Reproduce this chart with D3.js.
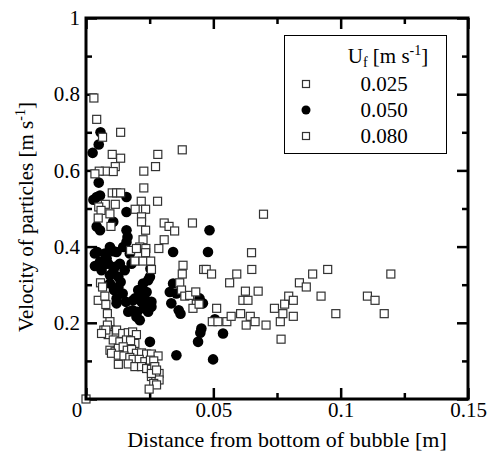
<!DOCTYPE html>
<html lang="en">
<head>
  <meta charset="UTF-8" />
  <title>Velocity of particles vs distance</title>
  <script src="https://d3js.org/d3.v7.min.js"></script>
  <style>
    body { margin: 0; background: #fff; }
    svg, svg text { font-family: "Liberation Serif", "Times New Roman", Times, "DejaVu Serif", "Noto Serif", serif !important; fill: #000; }
  </style>
</head>
<body>
  <svg id="chart" width="487" height="454"></svg>
  <script>
    // Uf = 0.025 m/s  (open squares)
    const s025 = [
      [0.0070, 0.181], [0.0094, 0.183], [0.0120, 0.181], [0.0144, 0.172], [0.0166, 0.174],
      [0.0183, 0.176], [0.0198, 0.169], [0.0087, 0.169], [0.0107, 0.155], [0.0133, 0.150],
      [0.0159, 0.155], [0.0192, 0.146], [0.0175, 0.153], [0.0094, 0.128], [0.0114, 0.124],
      [0.0127, 0.133], [0.0146, 0.137], [0.0162, 0.128], [0.0179, 0.130], [0.0198, 0.120],
      [0.0218, 0.121], [0.0238, 0.118], [0.0257, 0.118], [0.0283, 0.113], [0.0100, 0.120],
      [0.0127, 0.115], [0.0149, 0.113], [0.0172, 0.109], [0.0185, 0.104], [0.0209, 0.104],
      [0.0231, 0.098], [0.0253, 0.102], [0.0266, 0.100], [0.0127, 0.091], [0.0166, 0.092],
      [0.0192, 0.085], [0.0218, 0.085], [0.0238, 0.080], [0.0257, 0.078], [0.0270, 0.085],
      [0.0287, 0.067], [0.0257, 0.059], [0.0274, 0.059], [0.0287, 0.050], [0.0266, 0.041],
      [0.0277, 0.037], [0.0248, 0.026], [0.0257, 0.067], [0.0277, 0.076],
      [0.0057, 0.305], [0.0065, 0.294], [0.0048, 0.259], [0.0074, 0.270], [0.0078, 0.248],
      [0.0084, 0.224], [0.0094, 0.203], [0.0084, 0.194], [0.0078, 0.181], [0.0061, 0.172],
      [0, 0]
    ];

    // Uf = 0.050 m/s  (filled circles)
    const s050 = [
      [0.0026, 0.646], [0.0050, 0.668], [0.0057, 0.700], [0.0050, 0.568], [0.0055, 0.534],
      [0.0042, 0.530], [0.0029, 0.523], [0.0042, 0.453], [0.0055, 0.443], [0.0107, 0.465],
      [0.0159, 0.530], [0.0159, 0.491], [0.0159, 0.443], [0.0163, 0.425], [0.0159, 0.412],
      [0.0485, 0.443], [0.0479, 0.386], [0.0342, 0.386], [0.0035, 0.349], [0.0055, 0.360],
      [0.0044, 0.386], [0.0081, 0.369], [0.0094, 0.399], [0.0146, 0.399], [0.0120, 0.386],
      [0.0172, 0.382], [0.0127, 0.321], [0.0107, 0.334], [0.0061, 0.338], [0.0094, 0.303],
      [0.0127, 0.293], [0.0120, 0.264], [0.0120, 0.251], [0.0166, 0.229], [0.0185, 0.259],
      [0.0211, 0.268], [0.0224, 0.303], [0.0244, 0.312], [0.0205, 0.286], [0.0238, 0.281],
      [0.0248, 0.249], [0.0227, 0.238], [0.0198, 0.216], [0.0244, 0.229], [0.0251, 0.321],
      [0.0253, 0.342], [0.0342, 0.303], [0.0329, 0.281], [0.0335, 0.251], [0.0364, 0.233],
      [0.0371, 0.224], [0.0355, 0.277], [0.0446, 0.264], [0.0459, 0.251], [0.0453, 0.185],
      [0.0449, 0.174], [0.0440, 0.150], [0.0538, 0.172], [0.0499, 0.104], [0.0355, 0.115],
      [0.0251, 0.150], [0.0035, 0.382], [0.0068, 0.351], [0.0087, 0.355], [0.0114, 0.347],
      [0.0133, 0.355], [0.0136, 0.307], [0.0110, 0.286], [0.0144, 0.277], [0.0157, 0.255],
      [0.0192, 0.264], [0.0218, 0.255], [0.0235, 0.259], [0.0257, 0.242], [0.0201, 0.229],
      [0.0183, 0.233], [0.0211, 0.207], [0.0179, 0.355], [0.0152, 0.338], [0.0094, 0.325],
      [0.0074, 0.382], [0.0107, 0.388], [0.0257, 0.255], [0.0506, 0.209]
    ];

    // Uf = 0.080 m/s  (open squares)
    const s080 = [
      [0.0031, 0.790], [0.0042, 0.734], [0.0065, 0.687], [0.0136, 0.700], [0.0103, 0.642],
      [0.0136, 0.632], [0.0115, 0.610], [0.0107, 0.597], [0.0076, 0.598], [0.0052, 0.598],
      [0.0035, 0.591], [0.0282, 0.642], [0.0273, 0.610], [0.0227, 0.598], [0.0227, 0.554],
      [0.0378, 0.654], [0.0281, 0.519], [0.0217, 0.519], [0.0193, 0.498], [0.0234, 0.498],
      [0.0103, 0.541], [0.0120, 0.541], [0.0136, 0.541], [0.0115, 0.511], [0.0076, 0.511],
      [0.0050, 0.504], [0.0059, 0.495], [0.0048, 0.475], [0.0094, 0.486], [0.0098, 0.453],
      [0.0218, 0.478], [0.0218, 0.465], [0.0234, 0.443], [0.0307, 0.462], [0.0326, 0.453],
      [0.0348, 0.441], [0.0307, 0.418], [0.0418, 0.462], [0.0224, 0.418], [0.0286, 0.395],
      [0.0211, 0.399], [0.0235, 0.395], [0.0175, 0.390], [0.0198, 0.395], [0.0192, 0.362],
      [0.0224, 0.362], [0.0234, 0.384], [0.0254, 0.362], [0.0257, 0.340], [0.0381, 0.351],
      [0.0378, 0.328], [0.0368, 0.305], [0.0375, 0.286], [0.0388, 0.270], [0.0407, 0.272],
      [0.0431, 0.281], [0.0433, 0.249], [0.0420, 0.238], [0.0444, 0.249], [0.0462, 0.340],
      [0.0472, 0.340], [0.0493, 0.328],
      [0.0496, 0.203], [0.0518, 0.203], [0.0553, 0.203], [0.0513, 0.238], [0.0570, 0.217],
      [0.0564, 0.305], [0.0592, 0.328], [0.0607, 0.224], [0.0616, 0.259], [0.0626, 0.283],
      [0.0636, 0.259], [0.0629, 0.194], [0.0645, 0.217], [0.0651, 0.340], [0.0650, 0.384],
      [0.0664, 0.203], [0.0676, 0.283], [0.0697, 0.485], [0.0707, 0.194], [0.0740, 0.238],
      [0.0763, 0.203], [0.0773, 0.224], [0.0766, 0.157], [0.0780, 0.249], [0.0796, 0.270],
      [0.0814, 0.259], [0.0814, 0.217], [0.0838, 0.305], [0.0865, 0.294], [0.0890, 0.328],
      [0.0923, 0.270], [0.0949, 0.340], [0.0981, 0.224], [0.1105, 0.270], [0.1135, 0.259],
      [0.1171, 0.224], [0.1197, 0.328]
    ];

    const legendLabels = ["0.025", "0.050", "0.080"];
    const xMajor = [0, 0.05, 0.1, 0.15];
    const xMinor = [0.025, 0.075, 0.125];
    const yMajor = [0, 0.2, 0.4, 0.6, 0.8, 1];
    const yMinor = [0.1, 0.3, 0.5, 0.7, 0.9];

    const serif = '"Liberation Serif", "Times New Roman", Times, "DejaVu Serif", serif';
    const svg = d3.select("#chart").attr("font-family", serif);
    const plotL = 86, plotR = 468, plotT = 18, plotB = 399;

    const x = d3.scaleLinear().domain([0, 0.15]).range([plotL, plotR]);
    const y = d3.scaleLinear().domain([0, 1]).range([plotB, plotT]);

    const fmt = d => d === 0 ? "" : String(+d.toFixed(3));

    // axes with inward ticks
    function addAxis(axis, tx, ty) {
      const g = svg.append("g")
        .attr("transform", `translate(${tx},${ty})`)
        .call(axis)
        .attr("font-family", serif)
        .attr("font-size", 21);
      g.select(".domain").remove();
      g.selectAll(".tick line").attr("stroke", "#000").attr("stroke-width", 2.5);
      return g;
    }

    addAxis(d3.axisBottom(x).tickValues(xMajor).tickSize(-11).tickPadding(3).tickFormat(fmt), 0, plotB);
    addAxis(d3.axisBottom(x).tickValues(xMinor).tickSize(-6).tickFormat(""), 0, plotB);
    addAxis(d3.axisTop(x).tickValues(xMajor).tickSize(-11).tickFormat(""), 0, plotT);
    addAxis(d3.axisTop(x).tickValues(xMinor).tickSize(-6).tickFormat(""), 0, plotT);
    addAxis(d3.axisLeft(y).tickValues(yMajor).tickSize(-11).tickPadding(6).tickFormat(fmt), plotL, 0);
    addAxis(d3.axisLeft(y).tickValues(yMinor).tickSize(-6).tickFormat(""), plotL, 0);
    addAxis(d3.axisRight(y).tickValues(yMajor).tickSize(-11).tickFormat(""), plotR, 0);
    addAxis(d3.axisRight(y).tickValues(yMinor).tickSize(-6).tickFormat(""), plotR, 0);

    // shared origin label
    svg.append("text")
      .attr("x", 77).attr("y", 417)
      .attr("text-anchor", "middle")
      .attr("font-size", 21)
      .text("0");

    // data
    svg.append("g").selectAll("circle")
      .data(s050)
      .join("circle")
      .attr("cx", d => x(d[0]))
      .attr("cy", d => y(d[1]))
      .attr("r", 5.3)
      .attr("fill", "#000");

    const sq = 8;
    svg.append("g").selectAll("rect")
      .data(s025.concat(s080))
      .join("rect")
      .attr("x", d => x(d[0]) - sq / 2)
      .attr("y", d => y(d[1]) - sq / 2)
      .attr("width", sq)
      .attr("height", sq)
      .attr("fill", "#fff")
      .attr("stroke", "#333")
      .attr("stroke-width", 1.2);

    // frame
    svg.append("rect")
      .attr("x", plotL).attr("y", plotT)
      .attr("width", plotR - plotL).attr("height", plotB - plotT)
      .attr("fill", "none")
      .attr("stroke", "#000")
      .attr("stroke-width", 3);

    // legend
    const lg = svg.append("g");
    lg.append("rect")
      .attr("x", 284.5).attr("y", 35.5)
      .attr("width", 162).attr("height", 118)
      .attr("fill", "#fff")
      .attr("stroke", "#000")
      .attr("stroke-width", 1);

    const title = lg.append("text").attr("x", 388).attr("y", 63)
      .attr("text-anchor", "middle").attr("font-size", 21);
    title.append("tspan").text("U");
    title.append("tspan").attr("dy", 4).attr("font-size", 14).text("f");
    title.append("tspan").attr("dy", -4).text(" [m s");
    title.append("tspan").attr("dy", -8).attr("font-size", 14).text("-1");
    title.append("tspan").attr("dy", 8).text("]");

    const rowY = [84, 110, 136];
    legendLabels.forEach((lab, i) => {
      if (i === 1) {
        lg.append("circle").attr("cx", 306).attr("cy", rowY[i]).attr("r", 4.5).attr("fill", "#000");
      } else {
        lg.append("rect")
          .attr("x", 306 - 3.5).attr("y", rowY[i] - 3.5)
          .attr("width", 7).attr("height", 7)
          .attr("fill", "#fff").attr("stroke", "#333").attr("stroke-width", 1.2);
      }
      lg.append("text")
        .attr("x", 384).attr("y", rowY[i] + 7)
        .attr("text-anchor", "middle")
        .attr("font-size", 21)
        .text(lab);
    });

    // axis titles
    svg.append("text")
      .attr("x", 287).attr("y", 447)
      .attr("text-anchor", "middle")
      .attr("font-size", 22)
      .text("Distance from bottom of bubble [m]");

    const yt = svg.append("text")
      .attr("transform", "translate(33,217) rotate(-90)")
      .attr("text-anchor", "middle")
      .attr("font-size", 21);
    yt.append("tspan").text("Velocity of particles [m s");
    yt.append("tspan").attr("dy", -8).attr("font-size", 14).text("-1");
    yt.append("tspan").attr("dy", 8).text("]");
  </script>
</body>
</html>
